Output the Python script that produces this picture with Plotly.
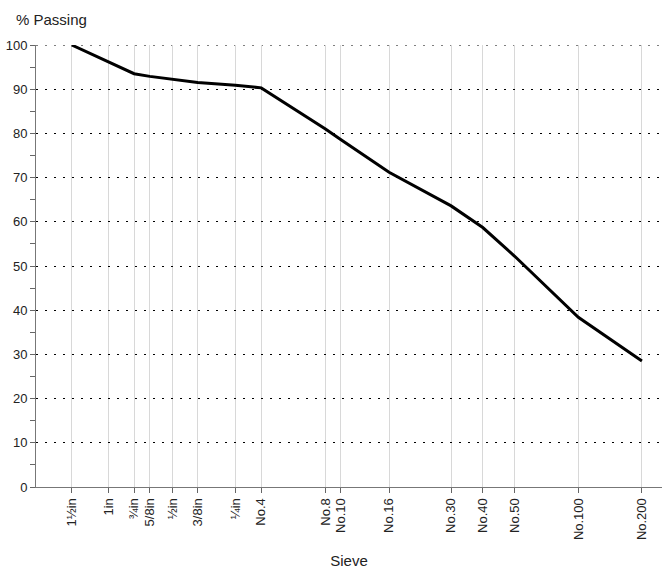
import plotly.graph_objects as go

sieve_labels = ["1½in", "1in", "¾in", "5/8in", "½in", "3/8in", "¼in", "No.4",
                "No.8", "No.10", "No.16", "No.30", "No.40", "No.50", "No.100", "No.200"]
sieve_mm = [37.5, 25.0, 19.0, 16.0, 12.5, 9.5, 6.3, 4.75,
            2.36, 2.0, 1.18, 0.6, 0.425, 0.3, 0.15, 0.075]
passing = [100, 96.1, 93.5, 92.9, 92.2, 91.5, 90.9, 90.3,
           81.0, 78.6, 71.2, 63.6, 58.7, 52.2, 38.4, 28.5]
y_ticks = list(range(0, 101, 10))

fig = go.Figure()
fig.add_trace(go.Scatter(x=sieve_mm, y=passing, mode="lines",
                         line=dict(color="black", width=3),
                         cliponaxis=False, hoverinfo="skip", showlegend=False))

font_family = "Liberation Sans, Arial, sans-serif"
fig.update_layout(
    width=662, height=569,
    margin=dict(l=36, r=0, t=45, b=80),
    paper_bgcolor="white", plot_bgcolor="white",
    font=dict(family=font_family, size=13, color="#222"),
    xaxis=dict(
        type="log", range=[1.743, -1.22],
        tickmode="array", tickvals=sieve_mm, ticktext=sieve_labels,
        tickangle=-90, ticks="outside", ticklen=5, tickcolor="#666",
        showgrid=True, gridcolor="#d8d8d8", gridwidth=1,
        showline=True, linecolor="#777", linewidth=1,
        zeroline=False,
        tickfont=dict(size=13, color="#222"),
        title=dict(text="Sieve", font=dict(size=15, color="#222"), standoff=18),
    ),
    yaxis=dict(
        range=[0, 100], tickmode="array", tickvals=y_ticks,
        ticks="outside", ticklen=5, tickcolor="#666",
        minor=dict(tickvals=list(range(5, 100, 10)), ticks="outside", ticklen=5,
                   tickcolor="#666", showgrid=False),
        showgrid=True, gridcolor="black", gridwidth=1, griddash="2px,7px",
        showline=True, linecolor="#777", linewidth=1,
        zeroline=False,
        tickfont=dict(size=13, color="#222"),
    ),
    shapes=[dict(type="line", xref="paper", yref="y", x0=0, x1=1,
                 y0=y_ticks[-1], y1=y_ticks[-1], layer="below",
                 line=dict(color="black", width=1, dash="2px,7px"))],
    annotations=[dict(text="% Passing", xref="paper", yref="paper",
                      x=-0.035, y=1.0, yshift=26, xanchor="left", yanchor="middle",
                      showarrow=False, font=dict(size=15, color="#222"))],
)

fig.write_html("out.html")
